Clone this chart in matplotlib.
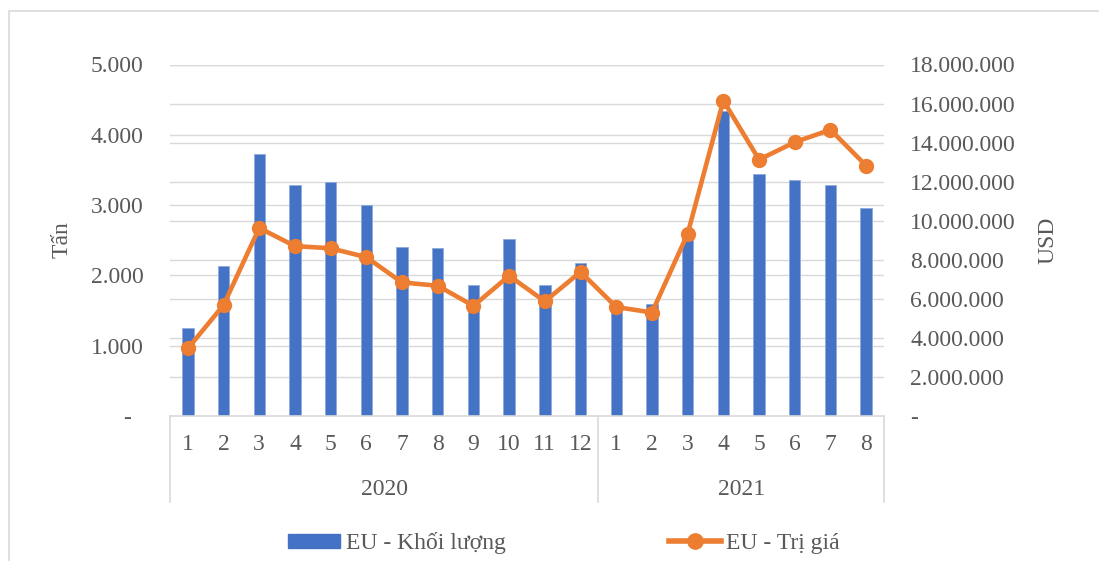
import matplotlib
matplotlib.use("Agg")
import matplotlib.pyplot as plt
from matplotlib.lines import Line2D
from matplotlib.patches import Patch, Rectangle

# Monthly EU volumes (tonnes) and values (USD), 2020-01 .. 2021-08
years = ["2020", "2021"]
months_per_year = [12, 8]
months = [str(m) for m in range(1, 13)] + [str(m) for m in range(1, 9)]
volume_t = [1250, 2140, 3730, 3290, 3330, 3005, 2410, 2390, 1860, 2520, 1865, 2175,
            1570, 1600, 2600, 4335, 3440, 3360, 3280, 2965]
value_usd = [3460000, 5680000, 9630000, 8700000, 8590000, 8130000, 6840000, 6670000,
             5640000, 7180000, 5870000, 7380000,
             5580000, 5300000, 9330000, 16150000, 13130000, 14020000, 14660000, 12820000]

left_ticks = [0, 1000, 2000, 3000, 4000, 5000]
right_ticks = [0, 2000000, 4000000, 6000000, 8000000, 10000000, 12000000,
               14000000, 16000000, 18000000]

BLUE = "#4472C4"
ORANGE = "#ED7D31"
GRID = "#D9D9D9"
TEXT = "#595959"
FONT = ["Liberation Serif", "DejaVu Serif"]
FS = 17

plt.rcParams["font.family"] = FONT


def dotted(v, trail=""):
    if v == 0:
        return "-" + trail
    return f"{v:,.0f}".replace(",", ".")


fig = plt.figure(figsize=(10.99, 5.61), dpi=100)
W, H = 1099, 561
ax = fig.add_axes([170 / W, 1 - 416 / H, (884 - 170) / W, (416 - 64.5) / H])
ax2 = ax.twinx()

x = list(range(len(months)))
ax.set_xlim(-0.5, len(months) - 0.5)
ax.set_ylim(0, 5000)
ax2.set_ylim(0, 18000000)

# gridlines for both scales, kept behind the bars
ratio = 5000 / 18000000
for t in left_ticks[1:]:
    ax.axhline(t, color=GRID, lw=1.0, zorder=0)
for t in right_ticks[1:]:
    ax.axhline(t * ratio, color=GRID, lw=1.0, zorder=0)

ax.bar(x, volume_t, width=0.32, color=BLUE, edgecolor="#8FAADC", linewidth=0.6, zorder=2)
ax2.plot(x, value_usd, color=ORANGE, lw=3.3, marker="o", markersize=10,
         solid_joinstyle="round", zorder=3)

for a in (ax, ax2):
    for s in a.spines.values():
        s.set_visible(False)
    a.tick_params(length=0, labelsize=FS, labelcolor=TEXT)
ax.spines["bottom"].set_visible(True)
ax.spines["bottom"].set_color(GRID)
ax.spines["bottom"].set_linewidth(1.2)

ax.set_yticks(left_ticks)
ax.set_yticklabels([dotted(v, "  ") for v in left_ticks])
ax.tick_params(axis="y", pad=19)
ax2.set_yticks(right_ticks)
ax2.set_yticklabels([dotted(v) for v in right_ticks])
ax2.tick_params(axis="y", pad=19)
ax.set_xticks([])

# two-level category axis
tr = ax.get_xaxis_transform()
for xi, lab in zip(x, months):
    ax.text(xi, -0.08, lab, transform=tr, ha="center", va="center",
            fontsize=FS, color=TEXT)
bounds = [-0.5]
for n in months_per_year:
    bounds.append(bounds[-1] + n)
for b in bounds:
    ax.add_line(Line2D([b, b], [0, -0.244], transform=tr, color=GRID, lw=1.2,
                       clip_on=False))
for y0, y1, yr in zip(bounds[:-1], bounds[1:], years):
    ax.text((y0 + y1) / 2, -0.208, yr, transform=tr, ha="center", va="center",
            fontsize=FS, color=TEXT)

fig.text(62 / W, 1 - 240 / H, "Tấn", rotation=90, ha="center", va="center",
         fontsize=FS, color=TEXT)
fig.text(1048 / W, 1 - 240 / H, "USD", rotation=90, ha="center", va="center",
         fontsize=FS, color=TEXT)

handles = [Patch(facecolor=BLUE, edgecolor=BLUE),
           Line2D([], [], color=ORANGE, lw=4.0, marker="o", markersize=11)]
fig.legend(handles, ["EU - Khối lượng", "EU - Trị giá"], loc="center",
           bbox_to_anchor=(564 / W, 1 - 543 / H), ncol=2, frameon=False,
           fontsize=FS, labelcolor=TEXT, handlelength=2.2, handleheight=0.55,
           handletextpad=0.25, columnspacing=6.9, borderpad=0.2)

# outer chart frame
fig.patches.append(Rectangle((9 / W, -0.1), 1.2, 1 - 11 / H + 0.1,
                             transform=fig.transFigure, fill=False,
                             edgecolor=GRID, lw=1.2))

fig.savefig("out.png", dpi=100)
